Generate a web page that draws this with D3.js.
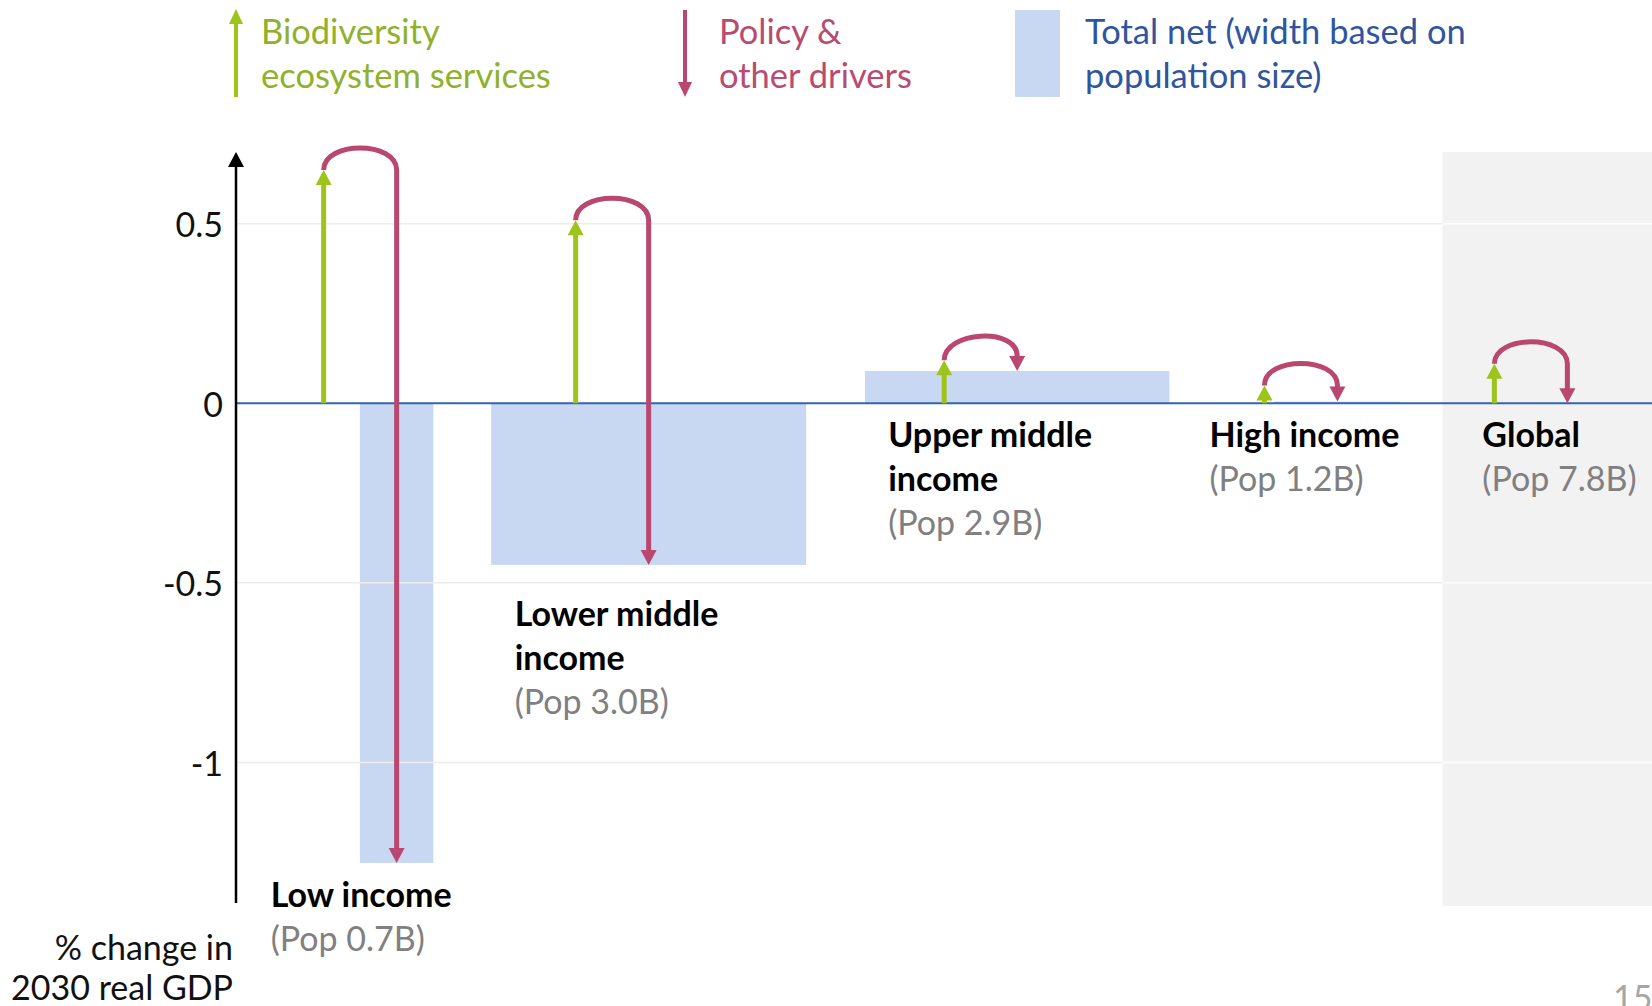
<!DOCTYPE html>
<html>
<head>
<meta charset="utf-8">
<script src="https://cdn.jsdelivr.net/npm/d3@7"></script>
<style>
  html, body { margin: 0; padding: 0; background: #ffffff; }
  svg { display: block; }
  text { font-family: Lato, "Open Sans", sans-serif; }
</style>
</head>
<body>
<svg id="chart" width="1652" height="1006"></svg>
<script>
// Income groups and their population (billions) — bar width follows population
const categories = ["Low income", "Lower middle income", "Upper middle income", "High income", "Global"];
const labelLines = [["Low income"], ["Lower middle", "income"], ["Upper middle", "income"], ["High income"], ["Global"]];
const populationB = [0.7, 3.0, 2.9, 1.2, 7.8];
const popLabels = ["(Pop 0.7B)", "(Pop 3.0B)", "(Pop 2.9B)", "(Pop 1.2B)", "(Pop 7.8B)"];

// % change in 2030 real GDP
const biodiversity = [0.65, 0.51, 0.12, 0.05, 0.11];     // biodiversity & ecosystem services
const policyDrivers = [-1.93, -0.96, -0.03, -0.045, -0.11]; // policy & other drivers
const netChange = biodiversity.map((b, i) => Math.round((b + policyDrivers[i]) * 1000) / 1000);

const yTicks = [0.5, 0, -0.5, -1];
const yTickLabels = ["0.5", "0", "-0.5", "-1"];

const legendItems = [
  { lines: ["Biodiversity", "ecosystem services"], kind: "up" },
  { lines: ["Policy &", "other drivers"], kind: "down" },
  { lines: ["Total net (width based on", "population size)"], kind: "box" }
];

// ---- styling ----
const GREEN = "#9dc41b", GREEN_TEXT = "#8fb12c";
const RED = "#b9476f", RED_TEXT = "#b94b70";
const BLUE_FILL = "#c9d8f2", BLUE_TEXT = "#2f559f", ZERO_LINE = "#3563b3";
const FONT = 34;

const svg = d3.select("#chart");

// ---- scales ----
const y = d3.scaleLinear().domain([-1.4, 0.7]).range([906, 152]);
const x = d3.scaleLinear().domain([0, 13.486]).range([236, 1652]); // billions of people along the axis

// horizontal layout: gap (in billions) before each income group, and the global group
const gapBefore = [1.18, 0.55, 0.56, 1.0];
const layout = [];
let cursor = 0;
for (let i = 0; i < 4; i++) {
  const left = cursor + gapBefore[i];
  layout.push({ left, right: left + populationB[i], center: left + populationB[i] / 2 });
  cursor = left + populationB[i];
}
const panelStart = cursor + 0.4;
layout.push({ left: null, right: null, center: cursor + 1.59 });

const ARROW_OFFSET = 73;     // green arrow sits left of the bar centre
const HEAD_LEN = 15, HEAD_HALF = 8;
const ARC_RISE = 22;
const labelDx = [-53, -61, -56, -55, -12];
const labelDy = [44, 61, 44, 44, 44];

// ---- global panel background ----
svg.append("rect")
  .attr("x", x(panelStart)).attr("y", y(0.7))
  .attr("width", 1652 - x(panelStart)).attr("height", y(-1.4) - y(0.7))
  .attr("fill", "#f2f2f2");

// ---- total net bars ----
const barData = categories.map((c, i) => ({ c, i, net: netChange[i], L: layout[i] }))
  .filter(d => d.L.left !== null);
svg.append("g").selectAll("rect").data(barData).join("rect")
  .attr("x", d => x(d.L.left))
  .attr("width", d => x(d.L.right) - x(d.L.left))
  .attr("y", d => y(Math.max(0, d.net)))
  .attr("height", d => Math.abs(y(d.net) - y(0)))
  .attr("fill", BLUE_FILL);

// ---- gridlines (drawn over the bars) ----
const grid = svg.append("g");
yTicks.filter(t => t !== 0).forEach(t => {
  grid.append("line")
    .attr("x1", x(0)).attr("x2", x(panelStart))
    .attr("y1", y(t)).attr("y2", y(t))
    .attr("stroke", "#ececec").attr("stroke-width", 1.5);
  grid.append("line")
    .attr("x1", x(panelStart)).attr("x2", 1652)
    .attr("y1", y(t)).attr("y2", y(t))
    .attr("stroke", "#fbfbfb").attr("stroke-width", 2);
});

// ---- zero line ----
svg.append("line")
  .attr("x1", x(0)).attr("x2", 1652)
  .attr("y1", y(0)).attr("y2", y(0))
  .attr("stroke", ZERO_LINE).attr("stroke-width", 2);

// ---- y axis with arrow head ----
const yAxis = d3.axisLeft(y).tickValues(yTicks).tickFormat((d, i) => yTickLabels[i]).tickSize(0).tickPadding(13);
const axisG = svg.append("g").attr("transform", `translate(${x(0)},0)`).call(yAxis);
axisG.select(".domain").remove();
axisG.selectAll("text")
  .style("font-family", "Lato, sans-serif").style("font-size", FONT + "px").attr("fill", "#111")
  .attr("dy", "0.38em");
svg.append("line")
  .attr("x1", x(0)).attr("x2", x(0))
  .attr("y1", y(-1.4) - 3).attr("y2", y(0.7) + 12)
  .attr("stroke", "#000").attr("stroke-width", 2.5);
svg.append("path")
  .attr("d", d3.line()([[x(0), y(0.7)], [x(0) - 8, y(0.7) + 15], [x(0) + 8, y(0.7) + 15]]) + "Z")
  .attr("fill", "#000");

// axis title
svg.append("text")
  .attr("text-anchor", "end").attr("x", 233)
  .attr("font-size", FONT).attr("fill", "#111")
  .selectAll("tspan").data(["% change in", "2030 real GDP"]).join("tspan")
  .attr("x", 233).attr("y", (d, i) => 960 + i * 40).text(d => d);

// ---- arrows ----
const arrows = svg.append("g");
categories.forEach((c, i) => {
  const xr = x(layout[i].center);
  const xg = xr - ARROW_OFFSET;
  const y0 = y(0), yb = y(biodiversity[i]), yn = y(netChange[i]);

  // biodiversity: upward arrow from zero
  if (y0 - (yb + HEAD_LEN) > 0) {
    arrows.append("line")
      .attr("x1", xg).attr("x2", xg).attr("y1", y0).attr("y2", yb + HEAD_LEN - 1)
      .attr("stroke", GREEN).attr("stroke-width", 5);
  }
  arrows.append("path")
    .attr("d", d3.line()([[xg, yb], [xg - HEAD_HALF, yb + HEAD_LEN], [xg + HEAD_HALF, yb + HEAD_LEN]]) + "Z")
    .attr("fill", GREEN);

  // policy & other drivers: arc from the top of the green arrow, then down to the net value
  const yBase = yn - HEAD_LEN;
  const yArcEnd = Math.min(yb, yBase);
  const k = ARC_RISE * 4 / 3;
  const p = d3.path();
  p.moveTo(xg, yb);
  p.bezierCurveTo(xg, yb - k, xr, yArcEnd - k, xr, yArcEnd);
  if (yBase > yArcEnd) p.lineTo(xr, yBase + 1);
  arrows.append("path")
    .attr("d", p.toString())
    .attr("fill", "none").attr("stroke", RED).attr("stroke-width", 5);
  arrows.append("path")
    .attr("d", d3.line()([[xr, yn], [xr - HEAD_HALF, yBase], [xr + HEAD_HALF, yBase]]) + "Z")
    .attr("fill", RED);

  // category label
  const lx = xg + labelDx[i];
  const ly = y(Math.min(0, netChange[i])) + labelDy[i];
  const t = svg.append("text").attr("font-size", FONT);
  labelLines[i].forEach((ln, j) => {
    t.append("tspan").attr("x", lx).attr("y", ly + j * 44)
      .attr("font-weight", 700).attr("fill", "#000").text(ln);
  });
  t.append("tspan").attr("x", lx).attr("y", ly + labelLines[i].length * 44)
    .attr("fill", "#808080").text(popLabels[i]);
});

// ---- legend ----
const legend = svg.append("g");
// up arrow
legend.append("line").attr("x1", 236).attr("x2", 236).attr("y1", 97).attr("y2", 22)
  .attr("stroke", GREEN).attr("stroke-width", 4);
legend.append("path").attr("d", d3.line()([[236, 9], [229, 24], [243, 24]]) + "Z").attr("fill", GREEN);
// down arrow
legend.append("line").attr("x1", 685).attr("x2", 685).attr("y1", 10).attr("y2", 84)
  .attr("stroke", RED).attr("stroke-width", 4);
legend.append("path").attr("d", d3.line()([[685, 97], [678, 82], [692, 82]]) + "Z").attr("fill", RED);
// box
legend.append("rect").attr("x", 1015).attr("y", 10).attr("width", 45).attr("height", 87).attr("fill", BLUE_FILL);

const legendText = [
  { x: 261, color: GREEN_TEXT },
  { x: 719, color: RED_TEXT },
  { x: 1085, color: BLUE_TEXT }
];
legendItems.forEach((item, i) => {
  const t = legend.append("text").attr("font-size", FONT + 0.5).attr("fill", legendText[i].color);
  item.lines.forEach((ln, j) => {
    t.append("tspan").attr("x", legendText[i].x).attr("y", 44 + j * 44).text(ln);
  });
});

// page number
svg.append("text").attr("x", 1613).attr("y", 1010).attr("font-size", 34).attr("fill", "#a6a6a6").text("15");
</script>
</body>
</html>
